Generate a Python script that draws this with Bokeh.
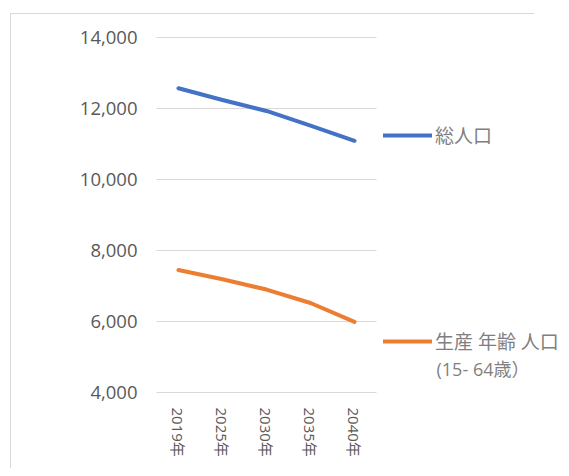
from bokeh.plotting import figure
from bokeh.models import (Range1d, FixedTicker, NumeralTickFormatter, Legend,
                          LegendItem, Label)
from bokeh.embed import file_html
from bokeh.resources import INLINE

# ---- data ----
years = ["2019年", "2025年", "2030年", "2035年", "2040年"]
total_pop = [12570, 12240, 11930, 11520, 11090]
working_pop = [7450, 7190, 6900, 6520, 5990]
y_ticks = [4000, 6000, 8000, 10000, 12000, 14000]
series_names = ["総人口", "生産 年齢 人口"]
series_note = "(15- 64歳）"
colors = ["#4472C4", "#ED7D31"]

FONT = "'Open Sans', 'Noto Sans CJK JP'"
xs = list(range(len(years)))

p = figure(width=569, height=468, output_backend="svg", toolbar_location=None,
           x_range=Range1d(-0.636, 8.886), y_range=Range1d(3887, 14394),
           min_border_left=150, min_border_right=0, min_border_top=23,
           min_border_bottom=72)
p.outline_line_color = None
p.grid.visible = False
p.background_fill_color = None
p.border_fill_color = None
# chart-area border (top and left edges, light grey)
p.styles = {"background": "linear-gradient(#d9d9d9, #d9d9d9) 10px 13px / 524px 1px no-repeat, "
                          "linear-gradient(#d9d9d9, #d9d9d9) 10px 13px / 1px 100% no-repeat, white"}

# gridlines
p.segment(x0=-0.5, x1=len(years) - 0.5, y0=y_ticks, y1=y_ticks,
          line_color="#d9d9d9", line_width=1)

r1 = p.line(xs, total_pop, line_color=colors[0], line_width=4,
            line_cap="round", line_join="round")
r2 = p.line(xs, working_pop, line_color=colors[1], line_width=4,
            line_cap="round", line_join="round")

# axes
p.yaxis.ticker = FixedTicker(ticks=y_ticks)
p.yaxis.formatter = NumeralTickFormatter(format="0,0")
p.xaxis.ticker = FixedTicker(ticks=xs)
p.xaxis.major_label_overrides = {i: y for i, y in enumerate(years)}
p.xaxis.major_label_orientation = "vertical"
for ax in (p.xaxis, p.yaxis):
    ax.axis_line_color = None
    ax.major_tick_line_color = None
    ax.minor_tick_line_color = None
    ax.major_tick_in = 0
    ax.major_tick_out = 0
    ax.major_label_text_color = "#595959"
    ax.major_label_text_font = FONT
p.yaxis.major_label_text_font_size = "18.5px"
p.yaxis.major_label_standoff = 13
p.xaxis.major_label_text_font_size = "15px"
p.xaxis.major_label_standoff = 11

# legends next to the lines
def make_legend(label, rend, loc):
    return Legend(items=[LegendItem(label=label, renderers=[rend])], location=loc,
                  border_line_color=None, background_fill_alpha=0,
                  padding=0, margin=0, spacing=0, glyph_width=49, glyph_height=20,
                  label_height=20, label_standoff=3,
                  label_text_font=FONT, label_text_font_size="19px",
                  label_text_color="#7f7f7f", label_text_line_height=1.2)

p.add_layout(make_legend(series_names[0], r1, (233, 247)))
p.add_layout(make_legend(series_names[1], r2, (233, 41)))

# second line of the orange series name
p.add_layout(Label(x=len(years) - 1 + 1.864, y=4650, text=series_note,
                   text_font=FONT, text_font_size="18px", text_color="#7f7f7f",
                   text_baseline="middle", text_align="left"))

open("out.html", "w").write(file_html(p, INLINE))
